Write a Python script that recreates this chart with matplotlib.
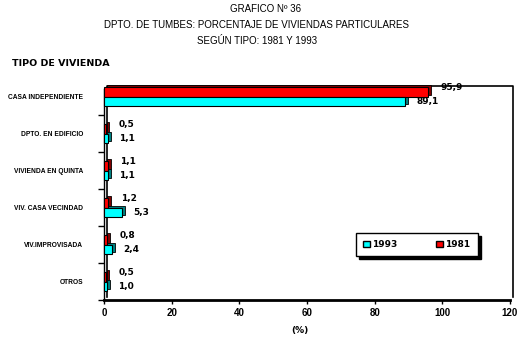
import matplotlib
matplotlib.use("Agg")
import matplotlib.pyplot as plt
from matplotlib.transforms import ScaledTranslation
from matplotlib.lines import Line2D
from matplotlib.patches import Patch
import numpy as np

# Tipos de vivienda y porcentajes por censo
categorias = ['CASA INDEPENDIENTE', 'DPTO. EN EDIFICIO', 'VIVIENDA EN QUINTA',
              'VIV. CASA VECINDAD', 'VIV.IMPROVISADA', 'OTROS']
v1981 = [95.9, 0.5, 1.1, 1.2, 0.8, 0.5]
v1993 = [89.1, 1.1, 1.1, 5.3, 2.4, 1.0]
xticks = [0, 20, 40, 60, 80, 100, 120]

plt.rcParams['font.family'] = ['Liberation Sans', 'DejaVu Sans']

fig = plt.figure(figsize=(5.3, 3.43), dpi=100)
ax = fig.add_axes([104 / 530, 43 / 343, 406 / 530, 211 / 343])

pos = np.arange(len(categorias))[::-1]
h = 0.26

# desplazamiento de la cara lateral (efecto 3D)
off = ScaledTranslation(3 / 100, 2 / 100, fig.dpi_scale_trans)

sh_r = ax.barh(pos + h / 2, v1981, height=h, color='#800000', edgecolor='black', lw=0.6, zorder=2)
sh_c = ax.barh(pos - h / 2, v1993, height=h, color='#008080', edgecolor='black', lw=0.6, zorder=2)
for p in list(sh_r) + list(sh_c):
    p.set_transform(ax.transData + off)
    p.set_clip_on(False)

br = ax.barh(pos + h / 2, v1981, height=h, color='#ff0000', edgecolor='black', lw=0.8, zorder=3)
bc = ax.barh(pos - h / 2, v1993, height=h, color='#00ffff', edgecolor='black', lw=0.8, zorder=3)
for p in list(br) + list(bc):
    p.set_clip_on(False)

def fmt(v):
    return f'{v:.1f}'.replace('.', ',')

for y, v in zip(pos, v1981):
    ax.annotate(fmt(v), xy=(v, y + h / 2), xytext=(9, 3), textcoords='offset points',
                ha='left', va='center', fontsize=6.5, fontweight='bold', family='DejaVu Sans')
for y, v in zip(pos, v1993):
    ax.annotate(fmt(v), xy=(v, y - h / 2), xytext=(8, 0), textcoords='offset points',
                ha='left', va='center', fontsize=6.5, fontweight='bold', family='DejaVu Sans')

ax.set_xlim(0, 120)
ax.set_ylim(-0.49, 5.21)
ax.set_xticks(xticks)
ax.set_xticklabels([str(t) for t in xticks], fontsize=7, fontweight='bold')
ax.tick_params(axis='x', length=3, width=1, pad=3)

ax.set_yticks(np.arange(-0.5, 5, 1.0))
ax.set_yticklabels([])
ax.tick_params(axis='y', which='major', length=4, width=1, direction='out')
ax.set_yticks(pos, minor=True)
ax.set_yticklabels(categorias, minor=True, fontsize=4.8, fontweight='bold')
ax.tick_params(axis='y', which='minor', length=0, pad=15)

for s in ['top', 'right']:
    ax.spines[s].set_visible(False)
ax.spines['bottom'].set_linewidth(2)
ax.spines['left'].set_linewidth(1)

# pared de fondo desplazada
back = ax.transAxes + ScaledTranslation(3 / 100, 3 / 100, fig.dpi_scale_trans)
ax.add_line(Line2D([0, 0, 1, 1], [0, 1, 1, 0], transform=back, color='black', lw=1.2,
                   clip_on=False, zorder=1))

leg = ax.legend(handles=[Patch(facecolor='#00ffff', edgecolor='black', label='1993'),
                         Patch(facecolor='#ff0000', edgecolor='black', label='1981')],
                loc='center', bbox_to_anchor=(0.771, 0.263), ncol=2, frameon=True,
                fancybox=False, shadow={'color': 'black', 'ox': 2, 'oy': -2, 'alpha': 1},
                handlelength=0.7, handleheight=0.7, handletextpad=0.3, columnspacing=4.3,
                borderpad=0.8, prop={'size': 6.5, 'weight': 'bold', 'family': 'DejaVu Sans'})
leg.get_frame().set_edgecolor('black')
leg.get_frame().set_linewidth(1)

fig.text(266 / 530, 1 - 9 / 343, 'GRAFICO Nº 36', ha='center', va='center', fontsize=7)
fig.text(257 / 530, 1 - 25 / 343, 'DPTO. DE TUMBES: PORCENTAJE DE VIVIENDAS PARTICULARES',
         ha='center', va='center', fontsize=7)
fig.text(257 / 530, 1 - 41 / 343, 'SEGÚN TIPO: 1981 Y 1993', ha='center', va='center', fontsize=7)
fig.text(12 / 530, 1 - 63 / 343, 'TIPO DE VIVIENDA', ha='left', va='center', fontsize=6.8,
         fontweight='bold', family='DejaVu Sans')
fig.text(300 / 530, 1 - 330 / 343, '(%)', ha='center', va='center', fontsize=6.5,
         fontweight='bold', family='DejaVu Sans')

fig.savefig('out.png', dpi=100)
